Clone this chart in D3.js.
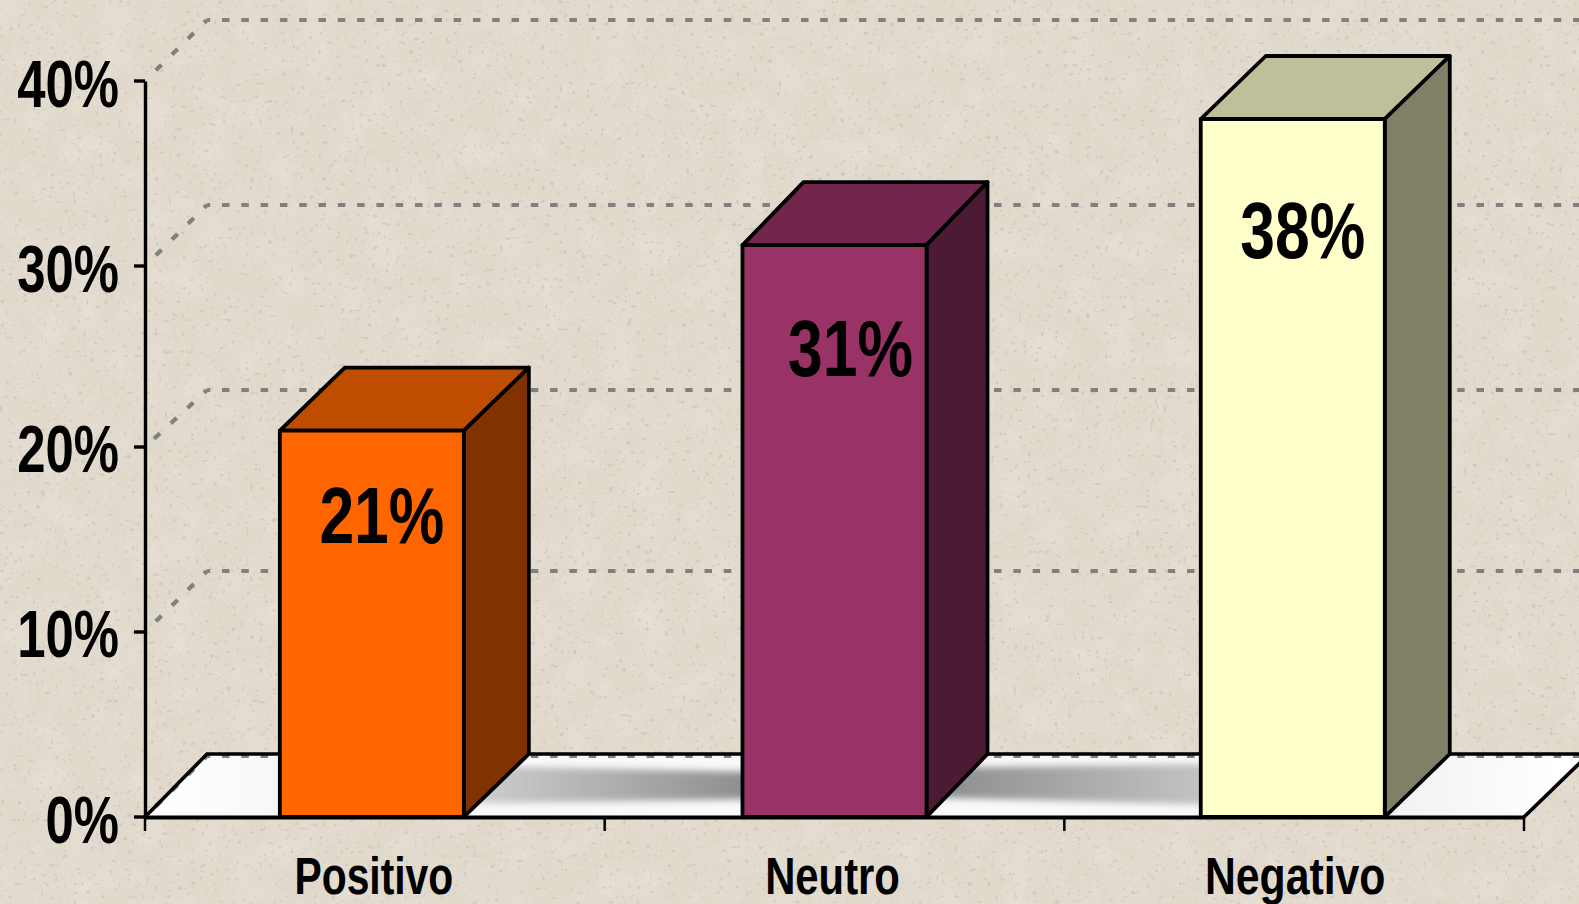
<!DOCTYPE html>
<html><head><meta charset="utf-8">
<script src="https://cdn.jsdelivr.net/npm/d3@7/dist/d3.min.js"></script>
<style>html,body{margin:0;padding:0;background:#e2dacd;overflow:hidden}svg{display:block}
text{font-family:"Liberation Sans",Arial,sans-serif;font-weight:700;fill:#000}</style>
</head><body><svg id="c" width="1579" height="904"></svg>
<script>
const categories = ["Positivo","Neutro","Negativo"];
const values = [21,31,38];
const valueLabels = ["21%","31%","38%"];
const frontColors = ["#ff6600","#993366","#ffffcc"];
const yTicks = [0,10,20,30,40];
const gridTicks = [0,10,20,30,40];

const W=1579,H=904, x0=145,x1=1524,y0=817,yTop=81, depthX=62;
const svg=d3.select("#c");
const defs=svg.append("defs");

// paper texture
const f1=defs.append("filter").attr("id","mottle").attr("x",0).attr("y",0).attr("width","100%").attr("height","100%");
f1.append("feTurbulence").attr("type","fractalNoise").attr("baseFrequency",0.03).attr("numOctaves",3).attr("seed",4);
f1.append("feColorMatrix").attr("values","0 0 0 0 0.94  0 0 0 0 0.90  0 0 0 0 0.86  1.4 0 0 0 -0.55");
const f2=defs.append("filter").attr("id","speck").attr("x",0).attr("y",0).attr("width","100%").attr("height","100%");
f2.append("feTurbulence").attr("type","fractalNoise").attr("baseFrequency",0.22).attr("numOctaves",2).attr("seed",9);
f2.append("feColorMatrix").attr("values","0 0 0 0 0.55  0 0 0 0 0.52  0 0 0 0 0.46  0 9 0 0 -5.9");
f2.append("feGaussianBlur").attr("stdDeviation",0.7);
svg.append("rect").attr("width",W).attr("height",H).attr("fill","#e1d9cc");
svg.append("rect").attr("width",W).attr("height",H).attr("filter","url(#mottle)").attr("opacity",0.3);
svg.append("rect").attr("width",W).attr("height",H).attr("filter","url(#speck)").attr("opacity",0.6);

const y=d3.scaleLinear().domain([0,40]).range([y0,yTop]);
const band=d3.scaleBand().domain(categories).range([x0,x1]);
const barW=184;
const barNudgeX=[-3,0,-1.4], barNudgeY=[0,-1.5,1.2];
const barDepth=[65,61,65];
const labelDx=[10,16,10], labelBase=[112.5,130.5,139];
const catDx=[-1,-2,1], catScale=[0.80,0.82,0.838];
const tickScale=0.77, valueScale=0.78;
// the reference snaps its ticks and gridlines unevenly; offsets per tick (0..40)
const tickNudge=[0,-1,-2,1,0], gridNudge=[0,-1,2,1,0], labelDrop=[26,25,25,26,26];
const tickY=d=>y(d)+tickNudge[d/10], gridY=d=>y(d)-61+gridNudge[d/10];

// floor
const floorPts=[[x0,y0],[x0+depthX,y0-63],[W+10,y0-63],[x1,y0]];
const line=d3.line();
defs.append("clipPath").attr("id","floorClip").append("path").attr("d",line(floorPts)+"Z");
defs.append("filter").attr("id","soft").attr("x","-10%").attr("y","-60%").attr("width","120%").attr("height","220%")
  .append("feGaussianBlur").attr("stdDeviation",3.8);
function hGrad(id,a,b,c1,c2){const g=defs.append("linearGradient").attr("id",id).attr("gradientUnits","userSpaceOnUse")
  .attr("x1",a).attr("x2",b).attr("y1",0).attr("y2",0);
  g.append("stop").attr("offset",0).attr("stop-color",c1);g.append("stop").attr("offset",1).attr("stop-color",c2);}
hGrad("g1",480,745,"#cdcdcd","#8f8f8f");
hGrad("g2",930,1200,"#8c8c8c","#c2c2c2");
hGrad("gL",x0,280,"#ffffff","#f8f8f8");
hGrad("gR",1385,1560,"#f1f1f1","#ffffff");
svg.append("path").attr("d",line(floorPts)+"Z").attr("fill","#f9f9f9");
const fl=svg.append("g").attr("clip-path","url(#floorClip)");
fl.append("rect").attr("x",x0).attr("y",y0-63).attr("width",135).attr("height",63).attr("fill","url(#gL)");
fl.append("rect").attr("x",1385).attr("y",y0-63).attr("width",200).attr("height",63).attr("fill","url(#gR)");
fl.append("path").attr("d",line([[440,765],[760,772],[760,799],[440,804]])+"Z").attr("fill","url(#g1)").attr("filter","url(#soft)");
fl.append("path").attr("d",line([[915,768],[1220,764],[1220,805],[915,797]])+"Z").attr("fill","url(#g2)").attr("filter","url(#soft)");

// gridlines
const grid=svg.append("g").attr("fill","none").attr("stroke","#808080").attr("stroke-width",4.2);
grid.selectAll("path.h").data(gridTicks).join("path").attr("class","h")
  .attr("d",d=>line([[x0+depthX,gridY(d)],[W,gridY(d)]])).attr("stroke-dasharray","7.5 11.8").attr("stroke-dashoffset",4.3);
grid.selectAll("path.d").data(gridTicks).join("path").attr("class","d")
  .attr("d",d=>line([[x0+depthX,gridY(d)],[x0,tickY(d)]])).attr("stroke-dasharray","8 14.6").attr("stroke-dashoffset",4);
svg.append("path").attr("d",line(floorPts)).attr("fill","none").attr("stroke","#000").attr("stroke-width",3.6).attr("stroke-linejoin","miter");

// bars
const stroke={stroke:"#000","stroke-width":3.8,"stroke-linejoin":"round"};
const bars=svg.append("g").selectAll("g").data(categories).join("g");
bars.each(function(c,i){
  const g=d3.select(this), l=band(c)+band.bandwidth()/2+barNudgeX[i]-barW/2, r=l+barW,
        t=y(values[i])+barNudgeY[i], b=y0, dx=barDepth[i], dy=63;
  const col=d3.rgb(frontColors[i]);
  const shade=k=>d3.rgb(col.r*k,col.g*k,col.b*k).formatHex();
  const add=(pts,fill)=>{const p=g.append("path").attr("d",line(pts)+"Z").attr("fill",fill);
    Object.entries(stroke).forEach(([k,v])=>p.attr(k,v));};
  add([[l,t],[r,t],[r+dx,t-dy],[l+dx,t-dy]],shade(0.75));
  add([[r,t],[r+dx,t-dy],[r+dx,b-dy],[r,b]],shade(0.5));
  add([[l,t],[r,t],[r,b],[l,b]],frontColors[i]);
  g.append("text").attr("text-anchor","middle")
    .attr("transform",`translate(${(l+r)/2+labelDx[i]},${t+labelBase[i]}) scale(${valueScale},1)`)
    .attr("font-size",80).text(valueLabels[i]);
});

// axes
const yAxis=d3.axisLeft(y).tickValues(yTicks).tickFormat(d=>d+"%").tickSize(11).tickSizeOuter(0);
const ax=svg.append("g").attr("transform",`translate(${x0},0)`).call(yAxis);
ax.select(".domain").attr("stroke","#000").attr("stroke-width",3.4);
ax.selectAll(".tick").attr("transform",d=>`translate(0,${tickY(d)})`);
ax.selectAll(".tick line").attr("stroke","#000").attr("stroke-width",3.4);
ax.selectAll(".tick text").attr("font-size",66).attr("x",0).attr("y",0).attr("dy",0)
  .attr("transform",d=>`translate(-26,${labelDrop[d/10]}) scale(${tickScale},1)`)
  .style("font-family",'"Liberation Sans",Arial,sans-serif').style("font-weight",700);
const xAxis=d3.axisBottom(band).tickValues([]).tickSizeOuter(0);
const bx=svg.append("g").attr("transform",`translate(0,${y0})`).call(xAxis);
bx.select(".domain").attr("stroke","#000").attr("stroke-width",4);
svg.append("g").selectAll("line").data([...categories.map(c=>band(c)),x1]).join("line")
  .attr("x1",d=>d).attr("x2",d=>d).attr("y1",y0).attr("y2",y0+14).attr("stroke","#000").attr("stroke-width",2.5);
svg.append("g").selectAll("text").data(categories).join("text")
  .attr("text-anchor","middle")
  .attr("transform",(c,i)=>`translate(${band(c)+band.bandwidth()/2+catDx[i]},894) scale(${catScale[i]},1)`)
  .attr("font-size",51).text(c=>c);
</script></body></html>
